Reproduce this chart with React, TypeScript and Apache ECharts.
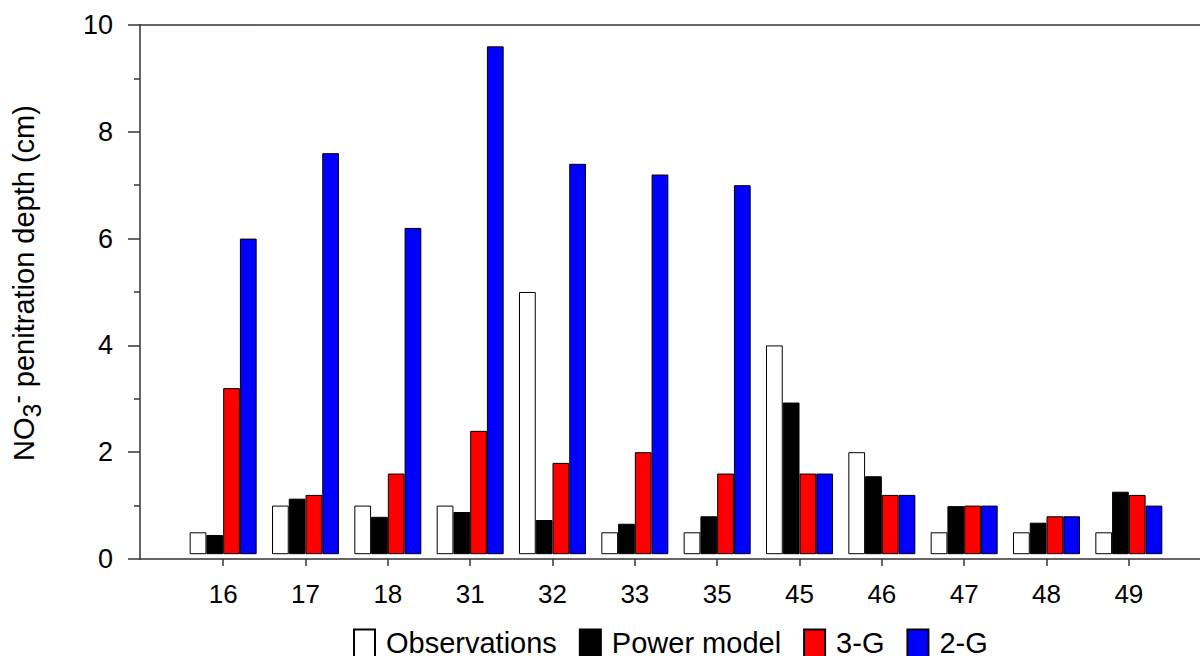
import React, { useEffect, useRef } from "react";
import * as echarts from "echarts";

const categories = ["16", "17", "18", "31", "32", "33", "35", "45", "46", "47", "48", "49"];
const observations = [0.5, 1.0, 1.0, 1.0, 5.0, 0.5, 0.5, 4.0, 2.0, 0.5, 0.5, 0.5];
const powerModel = [0.45, 1.13, 0.79, 0.88, 0.73, 0.66, 0.8, 2.93, 1.55, 0.99, 0.68, 1.26];
const threeG = [3.2, 1.2, 1.6, 2.4, 1.8, 2.0, 1.6, 1.6, 1.2, 1.0, 0.8, 1.2];
const twoG = [6.0, 7.6, 6.2, 9.6, 7.4, 7.2, 7.0, 1.6, 1.2, 1.0, 0.8, 1.0];
const seriesNames = ["Observations", "Power model", "3-G", "2-G"];
const seriesColors = ["#ffffff", "#000000", "#ff0000", "#0000ff"];
const barBase = 0.09;

const FONT = "'Liberation Sans', Arial, Helvetica, sans-serif";

export default function App() {
  const ref = useRef<HTMLDivElement>(null);
  useEffect(() => {
    if (!ref.current) return;
    const chart = echarts.init(ref.current, undefined, { renderer: "svg" });
    const allValues = [observations, powerModel, threeG, twoG];
    const series: any[] = [];
    allValues.forEach((vals, i) => {
      series.push({
        type: "bar",
        name: "_base" + i,
        stack: "s" + i,
        xAxisIndex: 0,
        yAxisIndex: 0,
        barWidth: 16.75,
        barGap: "0%",
        silent: true,
        itemStyle: { color: "rgba(0,0,0,0)", borderWidth: 0 },
        data: vals.map(() => barBase),
      });
      series.push({
        type: "bar",
        name: seriesNames[i],
        stack: "s" + i,
        xAxisIndex: 0,
        yAxisIndex: 0,
        barWidth: 16.75,
        barGap: "0%",
        itemStyle: { color: seriesColors[i], borderColor: "#000", borderWidth: 1 },
        data: vals.map((v) => +(v - barBase).toFixed(4)),
      });
    });
    const axisColor = "#333";
    chart.setOption({
      animation: false,
      backgroundColor: "#fff",
      textStyle: { fontFamily: FONT },
      grid: [
        { left: 182, right: 30, top: 25, bottom: 97 },
        { left: 140, right: 0, top: 25, bottom: 97 },
      ],
      legend: {
        data: seriesNames,
        left: 348,
        top: 623,
        itemWidth: 21,
        itemHeight: 36,
        itemGap: 22,
        icon: "rect",
        formatter: "{t|{name}}",
        textStyle: {
          fontSize: 29,
          color: "#000",
          fontFamily: FONT,
          rich: {
            t: { fontSize: 29, lineHeight: 20, color: "#000", fontFamily: FONT, padding: [0, 0, 10, 6] },
          },
        },
      },
      xAxis: [
        {
          type: "category",
          gridIndex: 0,
          data: categories,
          axisLine: { show: false },
          axisTick: { show: true, alignWithLabel: true, length: 7, lineStyle: { color: axisColor, width: 1.5 } },
          axisLabel: { fontSize: 26, color: "#000", margin: 22, fontFamily: FONT },
          splitLine: { show: false },
        },
        {
          type: "value",
          gridIndex: 1,
          position: "bottom",
          min: 0,
          max: 1,
          axisLine: { show: true, lineStyle: { color: axisColor, width: 1.5 } },
          axisTick: { show: false },
          axisLabel: { show: false },
          splitLine: { show: false },
        },
        {
          type: "value",
          gridIndex: 1,
          position: "top",
          min: 0,
          max: 1,
          axisLine: { show: true, lineStyle: { color: axisColor, width: 1.5 } },
          axisTick: { show: false },
          axisLabel: { show: false },
          splitLine: { show: false },
        },
      ],
      yAxis: [
        { type: "value", gridIndex: 0, min: 0, max: 10, show: false },
        {
          type: "value",
          gridIndex: 1,
          min: 0,
          max: 10,
          interval: 2,
          axisLine: { show: true, lineStyle: { color: axisColor, width: 1.5 } },
          axisTick: { show: true, length: 12, lineStyle: { color: axisColor, width: 1.5 } },
          minorTick: { show: true, splitNumber: 2, length: 6, lineStyle: { color: axisColor, width: 1.5 } },
          axisLabel: { fontSize: 27, color: "#000", margin: 27, fontFamily: FONT },
          splitLine: { show: false },
          minorSplitLine: { show: false },
        },
      ],
      graphic: [
        {
          type: "text",
          x: 24,
          y: 283,
          rotation: Math.PI / 2,
          style: {
            text: "{a|NO}{b|3}{c|-}{a| penitration depth (cm)}",
            align: "center",
            verticalAlign: "middle",
            fill: "#000",
            fontFamily: FONT,
            fontSize: 29,
            rich: {
              a: { fontSize: 29, lineHeight: 40, fill: "#000", fontFamily: FONT },
              b: { fontSize: 25, lineHeight: 10, verticalAlign: "bottom", fill: "#000", fontFamily: FONT },
              c: { fontSize: 25, lineHeight: 21, verticalAlign: "top", fill: "#000", fontFamily: FONT },
            },
          },
        },
      ],
      series,
    });
    return () => chart.dispose();
  }, []);
  return (
    <div
      ref={ref}
      style={{ position: "absolute", left: 0, top: 0, width: 1200, height: 656 }}
    />
  );
}
